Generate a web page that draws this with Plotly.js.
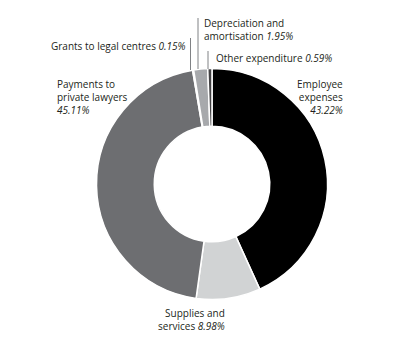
<!DOCTYPE html>
<html>
<head>
<meta charset="utf-8">
<script src="https://cdn.plot.ly/plotly-3.0.1.min.js"></script>
<style>html,body{margin:0;padding:0;background:#fff;}#chart{width:400px;height:352px;}</style>
</head>
<body>
<div id="chart"></div>
<script>
const categories = ["Employee expenses", "Supplies and services", "Payments to private lawyers", "Grants to legal centres", "Depreciation and amortisation", "Other expenditure"];
const values = [43.22, 8.98, 45.11, 0.15, 1.95, 0.59];
const colors = ["#000000", "#d1d3d4", "#6d6e71", "#939598", "#a7a9ac", "#414042"];
// label text as displayed (the italic percentage is appended to the last line)
const labelLines = [
  ["Employee", "expenses", ""],
  ["Supplies and", "services "],
  ["Payments to", "private lawyers", ""],
  ["Grants to legal centres "],
  ["Depreciation and", "amortisation "],
  ["Other expenditure "]
];

const W = 400, H = 352;
const px = x => x / W;
const py = y => 1 - y / H;
const fmt = v => v.toFixed(2) + "%";
const TXT = "#231f20";
const font = {family: "Open Sans, Noto Sans, sans-serif", size: 10, color: TXT};

const cx = 212, cy = 184, R = 115.5;

const trace = {
  type: "pie",
  labels: categories,
  values: values,
  sort: false,
  direction: "clockwise",
  rotation: 0,
  hole: 0.5,
  textinfo: "none",
  hoverinfo: "label+percent",
  marker: {colors: colors, line: {color: "#ffffff", width: 1.5}},
  domain: {x: [px(cx - R), px(cx + R)], y: [py(cy + R), py(cy - R)]},
  showlegend: false
};

// label placement: [x, centre y, anchor]
const labelPos = [
  [344, 96.5, "right"],
  [226, 319, "right"],
  [56, 96.5, "left"],
  [187, 46.5, "right"],
  [203, 29.5, "left"],
  [215, 58, "left"]
];

const annotations = labelLines.map((lines, i) => {
  const [x, y, anchor] = labelPos[i];
  const parts = lines.slice();
  parts[parts.length - 1] = parts[parts.length - 1] + "<i>" + fmt(values[i]) + "</i>";
  return {xref: "paper", yref: "paper", x: px(x), y: py(y), text: parts.join("<br>"),
    showarrow: false, xanchor: anchor, yanchor: "middle", align: anchor, borderpad: 0, font: font};
});

function vline(x, y0, y1) {
  return {type: "line", xref: "paper", yref: "paper", x0: px(x), x1: px(x), y0: py(y0), y1: py(y1),
          line: {color: "#808285", width: 1}};
}
const shapes = [vline(190.5, 38, 70), vline(198, 18, 69), vline(208, 51, 69)];

Plotly.newPlot("chart", [trace], {
  width: W, height: H,
  margin: {l: 0, r: 0, t: 0, b: 0},
  paper_bgcolor: "#ffffff",
  plot_bgcolor: "#ffffff",
  annotations: annotations,
  shapes: shapes
}, {staticPlot: true});
</script>
</body>
</html>
